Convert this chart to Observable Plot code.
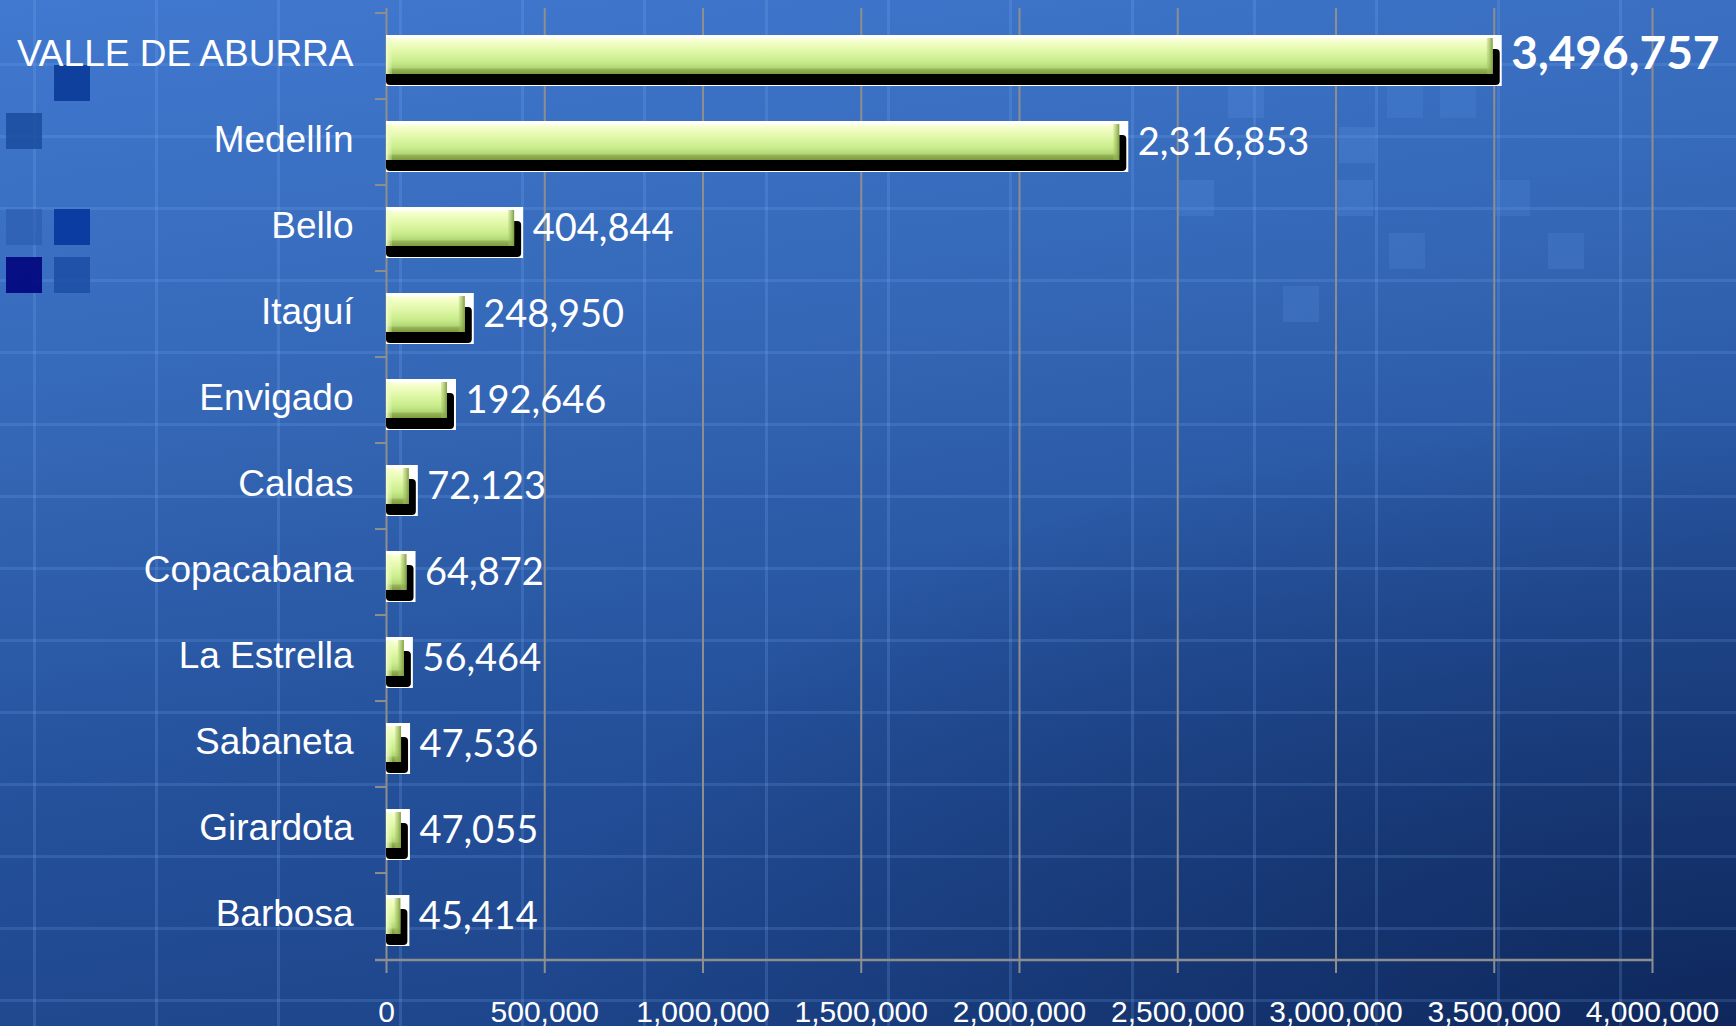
<!DOCTYPE html>
<html>
<head>
<meta charset="utf-8">
<script src="https://cdn.jsdelivr.net/npm/d3@7"></script>
<script src="https://cdn.jsdelivr.net/npm/@observablehq/plot@0.6"></script>
<style>
  html, body { margin: 0; padding: 0; }
  body {
    width: 1736px; height: 1026px; overflow: hidden; position: relative;
    background:
      repeating-linear-gradient(to right, transparent 0 33px, rgba(125,175,245,0.20) 33px 36px, transparent 36px 122px),
      repeating-linear-gradient(to bottom, transparent 0 63px, rgba(125,175,245,0.18) 63px 66px, transparent 66px 72px),
      radial-gradient(ellipse 70% 60% at 100% 100%, rgba(5,20,60,0.55), rgba(5,20,60,0) 100%),
      linear-gradient(172deg, #4179d0 0%, #3467b6 35%, #24509a 65%, #1a3f82 100%);
  }
  .sq { position: absolute; width: 36px; height: 36px; }
  #chart { position: absolute; left: 0; top: 0; }
</style>
</head>
<body>
<svg width="0" height="0" style="position:absolute">
  <defs>
    <linearGradient id="greenGrad" x1="0" y1="0" x2="0" y2="1">
      <stop offset="0%" stop-color="#fcfff0"/>
      <stop offset="8%" stop-color="#f6ffcc"/>
      <stop offset="35%" stop-color="#e2f8aa"/>
      <stop offset="65%" stop-color="#c9ec8c"/>
      <stop offset="82%" stop-color="#b4d878"/>
      <stop offset="88%" stop-color="#93b254"/>
      <stop offset="100%" stop-color="#7c9a3e"/>
    </linearGradient>
    <linearGradient id="leftBev" x1="0" y1="0" x2="1" y2="0">
      <stop offset="0%" stop-color="#f4ffd0" stop-opacity="0.9"/>
      <stop offset="100%" stop-color="#e8fab8" stop-opacity="0.2"/>
    </linearGradient>
    <linearGradient id="rightBev" x1="0" y1="0" x2="1" y2="0">
      <stop offset="0%" stop-color="#a8c868" stop-opacity="0.3"/>
      <stop offset="100%" stop-color="#7f9e42" stop-opacity="1"/>
    </linearGradient>
  </defs>
</svg>
<div class="sq" style="left:54px;top:65px;background:#0b3b98;opacity:.9"></div>
<div class="sq" style="left:6px;top:113px;background:#1a4c9e;opacity:.85"></div>
<div class="sq" style="left:6px;top:209px;background:#2a5aac;opacity:.6"></div>
<div class="sq" style="left:54px;top:209px;background:#06369e;opacity:.9"></div>
<div class="sq" style="left:6px;top:257px;background:#030a80;opacity:.95"></div>
<div class="sq" style="left:54px;top:257px;background:#1c4ea6;opacity:.85"></div>
<div class="sq" style="left:1228px;top:82px;background:#5a90e0;opacity:.25"></div>
<div class="sq" style="left:1339px;top:127px;background:#5a90e0;opacity:.25"></div>
<div class="sq" style="left:1387px;top:82px;background:#5a90e0;opacity:.2"></div>
<div class="sq" style="left:1440px;top:82px;background:#5a90e0;opacity:.2"></div>
<div class="sq" style="left:1178px;top:180px;background:#5a90e0;opacity:.25"></div>
<div class="sq" style="left:1337px;top:180px;background:#5a90e0;opacity:.25"></div>
<div class="sq" style="left:1494px;top:180px;background:#5a90e0;opacity:.2"></div>
<div class="sq" style="left:1389px;top:233px;background:#5a90e0;opacity:.22"></div>
<div class="sq" style="left:1548px;top:233px;background:#5a90e0;opacity:.22"></div>
<div class="sq" style="left:1283px;top:286px;background:#5a90e0;opacity:.22"></div>
<div id="chart"></div>
<script>
const categories = ["VALLE DE ABURRA", "Medellín", "Bello", "Itaguí", "Envigado", "Caldas", "Copacabana", "La Estrella", "Sabaneta", "Girardota", "Barbosa"];
const values = [3496757, 2316853, 404844, 248950, 192646, 72123, 64872, 56464, 47536, 47055, 45414];
const xTicks = [0, 500000, 1000000, 1500000, 2000000, 2500000, 3000000, 3500000, 4000000];

const data = categories.map((name, i) => ({name, value: values[i]}));
const fmt = d3.format(",");

const W = 1736, H = 1026, mT = 8, mB = 62, mL = 386, mR = 84;
const step = (H - mT - mB) / categories.length;
const gridColor = "#8e8e8e";

const chart = Plot.plot({
  width: W, height: H,
  marginLeft: mL, marginRight: mR, marginTop: mT, marginBottom: mB,
  style: {background: "transparent", color: "white", fontFamily: "'Liberation Sans', Arial, sans-serif", overflow: "visible"},
  x: {domain: [0, 4000000], label: null},
  y: {domain: categories, paddingInner: 0.586, paddingOuter: 0.293, label: null},
  marks: [
    Plot.ruleX(xTicks.slice(1), {stroke: gridColor, strokeWidth: 2}),
    Plot.ruleX([0], {stroke: gridColor, strokeWidth: 2}),
    Plot.ruleY(categories, {y: d => d, x1: 0, x2: 0, insetLeft: -11, dy: -step / 2, stroke: gridColor, strokeWidth: 2}),
    Plot.ruleY(categories.slice(-1), {y: d => d, x1: 0, x2: 4000000, insetLeft: -11, dy: step / 2, stroke: gridColor, strokeWidth: 2.5}),
    // white outline
    Plot.barX(data, {x: "value", y: "name", fill: "white", insetTop: -3, insetBottom: -12, insetRight: -9}),
    // black shadow
    Plot.barX(data, {x: "value", y: "name", fill: "black", dx: 7, dy: 11, insetLeft: -7, rx: 4}),
    // green body
    Plot.barX(data, {x: "value", y: "name", fill: "url(#greenGrad)"}),
    Plot.barX(data, {x1: 0, x2: 0, y: "name", insetRight: -6, fill: "url(#leftBev)"}),
    Plot.barX(data, {x1: "value", x2: "value", y: "name", insetLeft: -6, fill: "url(#rightBev)"}),
    // value labels
    Plot.text(data.slice(0, 1), {x: "value", y: "name", text: d => fmt(d.value), dx: 18, dy: -2, textAnchor: "start", fill: "white", fontSize: 46, fontWeight: "bold", fontFamily: "Lato, 'Open Sans', sans-serif"}),
    Plot.text(data.slice(1), {x: "value", y: "name", text: d => fmt(d.value), dx: 18, textAnchor: "start", fill: "white", fontSize: 38, fontFamily: "Lato, 'Open Sans', sans-serif"}),
    Plot.axisY({tickSize: 0, tickPadding: 33, fontSize: 37, dy: -2, fill: "white", label: null}),
    Plot.axisX({ticks: xTicks, tickFormat: fmt, tickSize: 9, tickPadding: 27, fontSize: 30, stroke: gridColor, strokeWidth: 2, fill: "white", label: null})
  ]
});
document.getElementById("chart").appendChild(chart);
</script>
</body>
</html>
